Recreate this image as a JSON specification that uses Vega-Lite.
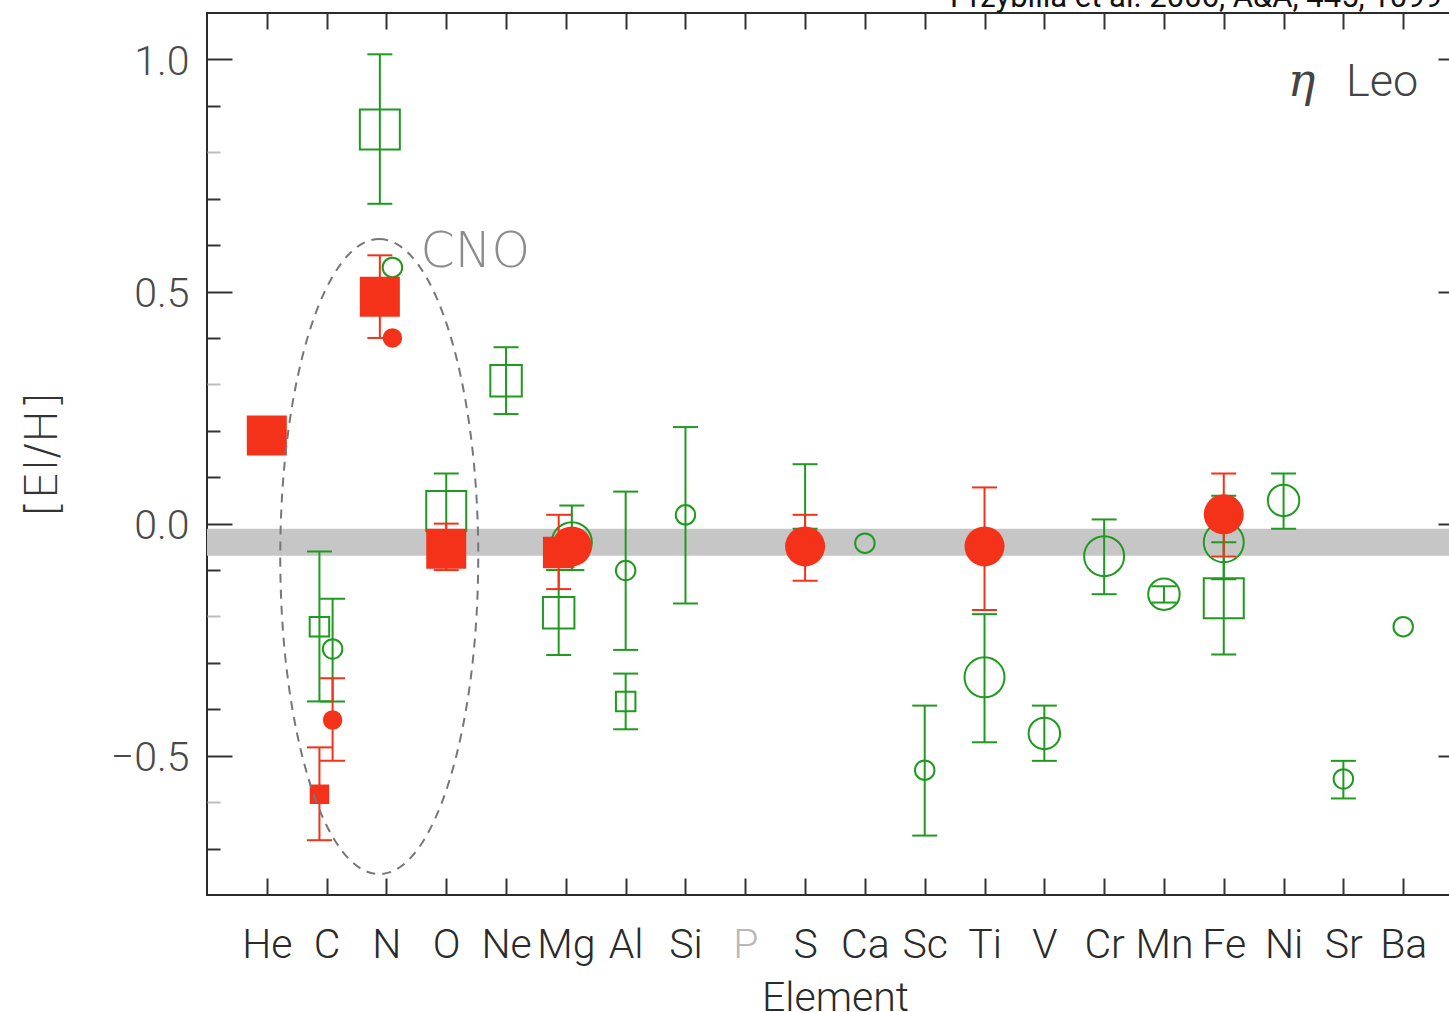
{
  "$schema": "https://vega.github.io/schema/vega-lite/v6.json",
  "width": 1256,
  "height": 882,
  "autosize": {"type": "none"},
  "padding": {"left": 207, "top": 13, "right": -14, "bottom": 117},
  "background": "white",
  "config": {"font": "Roboto", "view": {"stroke": "#2b2b2b", "strokeWidth": 2}},
  "datasets": {
    "abund": [
      {"el": "He", "x": 1.0, "model": "NLTE", "ion": "neutral", "n": 3, "y": 0.19},
      {"el": "C", "x": 1.88, "model": "LTE", "ion": "neutral", "n": 1, "y": -0.222, "lo": -0.383, "hi": -0.06},
      {"el": "C", "x": 2.1, "model": "LTE", "ion": "ionized", "n": 1, "y": -0.27, "lo": -0.383, "hi": -0.162},
      {"el": "C", "x": 1.88, "model": "NLTE", "ion": "neutral", "n": 1, "y": -0.583, "lo": -0.682, "hi": -0.482},
      {"el": "C", "x": 2.1, "model": "NLTE", "ion": "ionized", "n": 1, "y": -0.423, "lo": -0.511, "hi": -0.333},
      {"el": "N", "x": 2.89, "model": "LTE", "ion": "neutral", "n": 3, "y": 0.849, "lo": 0.689, "hi": 1.011},
      {"el": "N", "x": 3.1, "model": "LTE", "ion": "ionized", "n": 1, "y": 0.552},
      {"el": "N", "x": 2.89, "model": "NLTE", "ion": "neutral", "n": 3, "y": 0.489, "lo": 0.4, "hi": 0.578},
      {"el": "N", "x": 3.1, "model": "NLTE", "ion": "ionized", "n": 1, "y": 0.4},
      {"el": "O", "x": 4.0, "model": "LTE", "ion": "neutral", "n": 3, "y": 0.027, "lo": -0.054, "hi": 0.108},
      {"el": "O", "x": 4.0, "model": "NLTE", "ion": "neutral", "n": 3, "y": -0.054, "lo": -0.1, "hi": 0.0},
      {"el": "Ne", "x": 5.0, "model": "LTE", "ion": "neutral", "n": 2, "y": 0.308, "lo": 0.236, "hi": 0.38},
      {"el": "Mg", "x": 5.88, "model": "LTE", "ion": "neutral", "n": 2, "y": -0.192, "lo": -0.283, "hi": -0.1},
      {"el": "Mg", "x": 6.1, "model": "LTE", "ion": "ionized", "n": 3, "y": -0.04, "lo": -0.1, "hi": 0.039},
      {"el": "Mg", "x": 5.88, "model": "NLTE", "ion": "neutral", "n": 2, "y": -0.062, "lo": -0.141, "hi": 0.019},
      {"el": "Mg", "x": 6.1, "model": "NLTE", "ion": "ionized", "n": 3, "y": -0.049},
      {"el": "Al", "x": 7.0, "model": "LTE", "ion": "ionized", "n": 1, "y": -0.101, "lo": -0.272, "hi": 0.069},
      {"el": "Al", "x": 7.0, "model": "LTE", "ion": "neutral", "n": 1, "y": -0.383, "lo": -0.443, "hi": -0.323},
      {"el": "Si", "x": 8.0, "model": "LTE", "ion": "ionized", "n": 1, "y": 0.019, "lo": -0.172, "hi": 0.208},
      {"el": "S", "x": 10.0, "model": "LTE", "ion": "ionized", "n": 1, "y": -0.045, "lo": -0.011, "hi": 0.128},
      {"el": "S", "x": 10.0, "model": "NLTE", "ion": "ionized", "n": 3, "y": -0.049, "lo": -0.123, "hi": 0.019},
      {"el": "Ca", "x": 11.0, "model": "LTE", "ion": "ionized", "n": 1, "y": -0.042},
      {"el": "Sc", "x": 12.0, "model": "LTE", "ion": "ionized", "n": 1, "y": -0.531, "lo": -0.672, "hi": -0.392},
      {"el": "Ti", "x": 13.0, "model": "LTE", "ion": "ionized", "n": 3, "y": -0.331, "lo": -0.471, "hi": -0.195},
      {"el": "Ti", "x": 13.0, "model": "NLTE", "ion": "ionized", "n": 3, "y": -0.049, "lo": -0.186, "hi": 0.078},
      {"el": "V", "x": 14.0, "model": "LTE", "ion": "ionized", "n": 2, "y": -0.452, "lo": -0.511, "hi": -0.392},
      {"el": "Cr", "x": 15.0, "model": "LTE", "ion": "ionized", "n": 3, "y": -0.07, "lo": -0.152, "hi": 0.009},
      {"el": "Mn", "x": 16.0, "model": "LTE", "ion": "ionized", "n": 2, "y": -0.152, "lo": -0.17, "hi": -0.135},
      {"el": "Fe", "x": 17.0, "model": "LTE", "ion": "neutral", "n": 3, "y": -0.161, "lo": -0.282, "hi": -0.04},
      {"el": "Fe", "x": 17.0, "model": "LTE", "ion": "ionized", "n": 3, "y": -0.04, "lo": -0.12, "hi": 0.06},
      {"el": "Fe", "x": 17.0, "model": "NLTE", "ion": "ionized", "n": 3, "y": 0.02, "lo": -0.071, "hi": 0.108},
      {"el": "Ni", "x": 18.0, "model": "LTE", "ion": "ionized", "n": 2, "y": 0.05, "lo": -0.011, "hi": 0.108},
      {"el": "Sr", "x": 19.0, "model": "LTE", "ion": "ionized", "n": 1, "y": -0.55, "lo": -0.592, "hi": -0.511},
      {"el": "Ba", "x": 20.0, "model": "LTE", "ion": "ionized", "n": 1, "y": -0.222}
    ],
    "band": [{"xmin": 0, "xmax": 21, "lo": -0.069, "hi": -0.011}]
  },
  "layer": [
    {
      "data": {"name": "band"},
      "mark": {"type": "rect", "color": "#c6c6c6"},
      "encoding": {
        "x": {"field": "xmin", "type": "quantitative", "scale": {"domain": [0, 21], "nice": false, "zero": false},
          "axis": {"orient": "bottom", "values": [1,2,3,4,5,6,7,8,9,10,11,12,13,14,15,16,17,18,19,20],
            "labelExpr": "['','He','C','N','O','Ne','Mg','Al','Si','P','S','Ca','Sc','Ti','V','Cr','Mn','Fe','Ni','Sr','Ba'][datum.value]",
            "ticks": false, "domain": false, "grid": false, "labelFontSize": 41, "labelFontWeight": 300,
            "labelColor": {"condition": {"test": "datum.value == 9", "value": "#b8b8b8"}, "value": "#2a2a2a"},
            "labelPadding": 30, "labelOverlap": false, "labelFlush": false,
            "title": "Element", "titleFontSize": 41, "titleFontWeight": 300, "titleColor": "#2a2a2a", "titlePadding": 13}},
        "x2": {"field": "xmax"},
        "y": {"field": "lo", "type": "quantitative", "scale": {"domain": [-0.8, 1.1], "nice": false, "zero": false},
          "axis": {"orient": "left", "values": [-0.5, 0, 0.5, 1], "format": ".1f", "ticks": false, "domain": false, "grid": false,
            "labelFontSize": 41, "labelFontWeight": 300, "labelColor": "#4a4a4a", "labelPadding": 18,
            "labelBaseline": "middle", "labelOffset": 3,
            "title": "[El/H]", "titleFont": "DejaVu Sans", "titleFontSize": 45, "titleFontWeight": 200, "titleColor": "#333333", "titlePadding": 45}},
        "y2": {"field": "hi"}
      }
    },
    {
      "data": {"name": "abund"},
      "transform": [{"filter": "datum.model == 'LTE' && datum.lo != null"}],
      "mark": {"type": "rule", "color": "#1f9a1f", "strokeWidth": 2},
      "encoding": {
        "x": {"field": "x", "type": "quantitative", "scale": {"domain": [0, 21], "nice": false, "zero": false},
          "axis": {"orient": "bottom", "values": [1,2,3,4,5,6,7,8,9,10,11,12,13,14,15,16,17,18,19,20], "labels": false, "domain": false, "grid": false, "tickSize": -17, "tickWidth": 2, "tickColor": "#333333", "title": null}},
        "y": {"field": "lo", "type": "quantitative", "scale": {"domain": [-0.8, 1.1], "nice": false, "zero": false},
          "axis": {"orient": "left", "values": [-0.5, 0, 0.5, 1], "labels": false, "domain": false, "grid": false, "tickSize": -25, "tickWidth": 2, "tickColor": "#333333", "title": null}},
        "y2": {"field": "hi"}
      }
    },
    {
      "data": {"name": "abund"},
      "transform": [{"filter": "datum.model == 'LTE' && datum.lo != null"}, {"fold": ["lo", "hi"], "as": ["end", "v"]}],
      "mark": {"type": "tick", "orient": "horizontal", "size": 25, "thickness": 2, "color": "#1f9a1f", "opacity": 1},
      "encoding": {
        "x": {"field": "x", "type": "quantitative", "scale": {"domain": [0, 21], "nice": false, "zero": false},
          "axis": {"orient": "top", "values": [1,2,3,4,5,6,7,8,9,10,11,12,13,14,15,16,17,18,19,20], "labels": false, "domain": false, "grid": false, "tickSize": -16, "tickWidth": 2, "tickColor": "#333333", "title": null}},
        "y": {"field": "v", "type": "quantitative", "scale": {"domain": [-0.8, 1.1], "nice": false, "zero": false},
          "axis": {"orient": "left", "values": [0.9, 0.7, 0.6, 0.4, 0.2, 0.1, -0.1, -0.3, -0.4, -0.7], "labels": false, "domain": false, "grid": false, "tickSize": -13, "tickWidth": 2, "tickColor": "#333333", "title": null}}
      }
    },
    {
      "data": {"name": "abund"},
      "transform": [{"filter": "datum.model == 'LTE'"}],
      "mark": {"type": "point", "filled": false, "strokeWidth": 2, "opacity": 1},
      "encoding": {
        "x": {"field": "x", "type": "quantitative", "scale": {"domain": [0, 21], "nice": false, "zero": false}, "axis": null},
        "y": {"field": "y", "type": "quantitative", "scale": {"domain": [-0.8, 1.1], "nice": false, "zero": false},
          "axis": {"orient": "right", "values": [-0.5, 0, 0.5, 1], "labels": false, "domain": false, "grid": false, "tickSize": -25, "tickWidth": 2, "tickColor": "#333333", "title": null}},
        "shape": {"field": "ion", "type": "nominal", "scale": {"domain": ["neutral", "ionized"], "range": ["square", "circle"]}, "legend": null},
        "size": {"field": "n", "type": "quantitative", "scale": {"type": "linear", "domain": [1, 3], "range": [380, 1600], "zero": false}, "legend": null},
        "color": {"field": "model", "type": "nominal", "scale": {"domain": ["NLTE", "LTE"], "range": ["#f43219", "#1f9a1f"]}, "legend": null}
      }
    },
    {
      "data": {"name": "abund"},
      "transform": [{"filter": "datum.model == 'NLTE' && datum.lo != null"}],
      "mark": {"type": "rule", "color": "#f43219", "strokeWidth": 2},
      "encoding": {
        "x": {"field": "x", "type": "quantitative", "scale": {"domain": [0, 21], "nice": false, "zero": false}, "axis": null},
        "y": {"field": "lo", "type": "quantitative", "scale": {"domain": [-0.8, 1.1], "nice": false, "zero": false},
          "axis": {"orient": "left", "values": [0.8, 0.3, -0.2, -0.6], "labels": false, "domain": false, "grid": false, "tickSize": -13, "tickWidth": 2, "tickColor": "#bdbdbd", "title": null}},
        "y2": {"field": "hi"}
      }
    },
    {
      "data": {"name": "abund"},
      "transform": [{"filter": "datum.model == 'NLTE' && datum.lo != null"}, {"fold": ["lo", "hi"], "as": ["end", "v"]}],
      "mark": {"type": "tick", "orient": "horizontal", "size": 25, "thickness": 2, "color": "#f43219", "opacity": 1},
      "encoding": {
        "x": {"field": "x", "type": "quantitative", "scale": {"domain": [0, 21], "nice": false, "zero": false}, "axis": null},
        "y": {"field": "v", "type": "quantitative", "scale": {"domain": [-0.8, 1.1], "nice": false, "zero": false}, "axis": null}
      }
    },
    {
      "data": {"name": "abund"},
      "transform": [{"filter": "datum.model == 'NLTE'"}],
      "mark": {"type": "point", "filled": true, "opacity": 1},
      "encoding": {
        "x": {"field": "x", "type": "quantitative", "scale": {"domain": [0, 21], "nice": false, "zero": false}, "axis": null},
        "y": {"field": "y", "type": "quantitative", "scale": {"domain": [-0.8, 1.1], "nice": false, "zero": false}, "axis": null},
        "shape": {"field": "ion", "type": "nominal", "scale": {"domain": ["neutral", "ionized"], "range": ["square", "circle"]}, "legend": null},
        "size": {"field": "n", "type": "quantitative", "scale": {"type": "linear", "domain": [1, 3], "range": [380, 1600], "zero": false}, "legend": null},
        "color": {"field": "model", "type": "nominal", "scale": {"domain": ["NLTE", "LTE"], "range": ["#f43219", "#1f9a1f"]}, "legend": null}
      }
    },
    {
      "data": {"values": [{"group": "CNO", "x": 2.88, "y": -0.071}]},
      "mark": {"type": "point", "shape": "M0,-1C0.1722,-1 0.3118,-0.5523 0.3118,0C0.3118,0.5523 0.1722,1 0,1C-0.1722,1 -0.3118,0.5523 -0.3118,0C-0.3118,-0.5523 -0.1722,-1 0,-1Z", "size": 403225, "filled": false, "stroke": "#777777", "strokeWidth": 2, "strokeDash": [9, 7], "opacity": 1},
      "encoding": {
        "x": {"field": "x", "type": "quantitative", "scale": {"domain": [0, 21], "nice": false, "zero": false}, "axis": null},
        "y": {"field": "y", "type": "quantitative", "scale": {"domain": [-0.8, 1.1], "nice": false, "zero": false}, "axis": null}
      }
    },
    {
      "data": {"values": [{"label": "CNO", "x": 3.57, "y": 0.552}]},
      "mark": {"type": "text", "align": "left", "baseline": "alphabetic", "font": "DejaVu Sans", "fontSize": 49, "fontWeight": 200, "color": "#8c8c8c"},
      "encoding": {
        "x": {"field": "x", "type": "quantitative", "scale": {"domain": [0, 21], "nice": false, "zero": false}, "axis": null},
        "y": {"field": "y", "type": "quantitative", "scale": {"domain": [-0.8, 1.1], "nice": false, "zero": false}, "axis": null},
        "text": {"field": "label"}
      }
    },
    {
      "data": {"values": [{"label": "Leo", "x": 20.25, "y": 0.922}]},
      "mark": {"type": "text", "align": "right", "baseline": "alphabetic", "fontSize": 45, "fontWeight": 300, "color": "#444444"},
      "encoding": {
        "x": {"field": "x", "type": "quantitative", "scale": {"domain": [0, 21], "nice": false, "zero": false}, "axis": null},
        "y": {"field": "y", "type": "quantitative", "scale": {"domain": [-0.8, 1.1], "nice": false, "zero": false}, "axis": null},
        "text": {"field": "label"}
      }
    },
    {
      "data": {"values": [{"label": "η", "x": 18.3, "y": 0.922}]},
      "mark": {"type": "text", "align": "center", "baseline": "alphabetic", "fontSize": 46, "font": "DejaVu Serif", "fontStyle": "italic", "color": "#444444"},
      "encoding": {
        "x": {"field": "x", "type": "quantitative", "scale": {"domain": [0, 21], "nice": false, "zero": false}, "axis": null},
        "y": {"field": "y", "type": "quantitative", "scale": {"domain": [-0.8, 1.1], "nice": false, "zero": false}, "axis": null},
        "text": {"field": "label"}
      }
    },
    {
      "data": {"values": [{"label": "Przybilla et al. 2006, A&A, 445, 1099", "x": 20.65, "y": 1.112}]},
      "mark": {"type": "text", "align": "right", "baseline": "alphabetic", "fontSize": 31, "fontWeight": 400, "color": "#111111"},
      "encoding": {
        "x": {"field": "x", "type": "quantitative", "scale": {"domain": [0, 21], "nice": false, "zero": false}, "axis": null},
        "y": {"field": "y", "type": "quantitative", "scale": {"domain": [-0.8, 1.1], "nice": false, "zero": false}, "axis": null},
        "text": {"field": "label"}
      }
    }
  ],
  "resolve": {"axis": {"x": "independent", "y": "independent"}}
}
